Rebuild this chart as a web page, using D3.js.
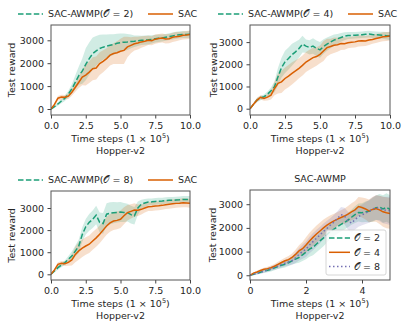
<!DOCTYPE html>
<html>
<head>
<meta charset="utf-8">
<script src="https://cdn.jsdelivr.net/npm/d3@7"></script>
<style>
body { margin: 0; background: #fff; }
svg text { font-family: "DejaVu Sans", sans-serif; fill: #262626; }
</style>
</head>
<body>
<svg width="407" height="329"></svg>
<script>
// time steps (x 1e5)
const timeSteps = [0,0.25,0.5,0.75,1,1.25,1.5,1.75,2,2.25,2.5,2.75,3,3.25,3.5,3.75,4,4.25,4.5,4.75,5,
  5.25,5.5,5.75,6,6.25,6.5,6.75,7,7.25,7.5,7.75,8,8.25,8.5,8.75,9,9.25,9.5,9.75,10];
const timeStepsShort = [0,0.125,0.25,0.375,0.5,0.625,0.75,0.875,1,1.125,1.25,1.375,1.5,1.625,1.75,1.875,2,
  2.125,2.25,2.375,2.5,2.625,2.75,2.875,3,3.125,3.25,3.375,3.5,3.625,3.75,3.875,4,4.125,4.25,4.375,4.5,4.625,4.75,4.875,5];

// panel 1: SAC-AWMP(O=2) vs SAC
const awmp2Mean = [0,100,220,350,470,650,880,1170,1460,1650,1950,2200,2420,2540,2640,2700,2750,2780,2810,2870,2900,
  2920,2930,2950,2960,2980,3000,3010,3020,3040,3070,3090,3100,3130,3160,3190,3220,3240,3250,3250,3260];
const awmp2Spread = [30,60,80,100,120,150,200,300,400,550,700,700,700,650,600,550,500,480,450,420,400,
  380,350,300,250,230,200,200,200,180,170,160,150,150,150,150,150,150,150,150,150];
const sac1Mean = [0,200,470,520,510,560,730,950,1170,1390,1480,1610,1760,1790,1980,2080,2200,2350,2420,2460,2520,
  2560,2710,2780,2850,2880,2930,2960,3000,2980,3050,3080,3100,3060,3070,3130,3160,3180,3220,3230,3250];
const sac1Spread = [30,60,100,100,100,120,150,200,250,350,450,480,500,500,500,480,450,450,450,500,550,
  600,450,350,300,280,250,230,200,200,200,200,200,200,200,200,200,180,180,180,180];

// panel 2: SAC-AWMP(O=4) vs SAC
const awmp4Mean = [0,200,390,480,540,650,810,990,1440,1850,2110,2260,2430,2560,2710,2910,2820,2760,2820,2720,2650,
  2800,2910,3000,3090,3150,3210,3260,3300,3300,3310,3320,3330,3350,3360,3340,3330,3320,3310,3290,3270];
const awmp4Spread = [30,60,90,100,100,120,150,250,400,450,500,500,500,450,400,380,300,320,350,350,350,
  330,300,280,250,220,200,180,160,150,150,150,150,150,150,150,150,150,160,170,180];
const sac2Mean = [0,200,390,510,460,520,610,910,1140,1210,1360,1470,1590,1700,1820,1950,2100,2200,2300,2350,2450,
  2600,2750,2800,2860,2880,2940,2930,2970,2990,3010,3050,3060,3050,3090,3120,3160,3200,3240,3250,3270];
const sac2Spread = [30,60,100,100,100,150,200,300,450,500,500,500,500,480,450,450,450,450,450,420,400,
  450,400,350,350,320,300,280,250,250,250,250,250,230,220,200,200,200,200,200,200];

// panel 3: SAC-AWMP(O=8) vs SAC
const awmp8Mean = [0,150,300,420,530,680,830,1050,1280,1800,2150,2350,2490,2680,2350,2300,2720,2760,2790,2800,2820,
  2800,2790,2700,2650,3000,3170,3230,3270,3280,3300,3310,3320,3340,3350,3350,3360,3370,3390,3390,3390];
const awmp8Spread = [30,60,90,100,100,150,200,250,300,330,350,380,400,420,450,470,500,500,480,460,450,
  430,400,400,400,300,200,180,160,150,150,150,150,150,150,150,150,150,150,150,150];
const sac3Mean = [0,200,450,500,480,540,650,900,1060,1180,1280,1360,1510,1650,1810,2000,2190,2330,2410,2440,2490,
  2650,2790,2850,2910,2900,2940,3000,3060,3070,3090,3100,3120,3150,3170,3190,3210,3220,3240,3230,3210];
const sac3Spread = [30,60,100,100,100,150,250,350,400,400,400,400,400,400,400,400,400,400,400,400,400,
  380,350,320,300,260,230,200,200,200,200,200,200,200,200,200,200,200,200,200,200];

// panel 4: SAC-AWMP with O = 2, 4, 8
const cmpO2Mean = [0,40,80,130,180,210,250,310,370,420,460,530,610,680,750,860,980,1100,1180,1320,1450,
  1580,1720,1850,1950,2050,2150,2230,2330,2450,2560,2650,2640,2680,2700,2760,2850,2880,2800,2860,2780];
const cmpO2Spread = [20,40,50,60,70,80,90,100,110,120,130,140,150,180,220,260,300,320,340,350,350,
  350,340,320,300,300,300,300,300,320,350,380,400,430,460,500,520,550,580,600,600];
const cmpO4Mean = [0,90,140,200,250,280,320,380,460,540,610,660,750,880,1030,1120,1280,1450,1600,1740,1870,
  2000,2120,2210,2300,2370,2440,2500,2580,2680,2760,2900,2860,2800,2720,2780,2820,2760,2680,2640,2610];
const cmpO4Spread = [20,40,50,60,70,80,90,100,110,120,130,150,170,200,240,280,320,340,350,360,360,
  350,330,320,300,300,300,320,340,360,380,400,420,450,480,520,560,600,630,650,650];
const cmpO8Mean = [0,40,80,120,170,230,280,330,390,450,510,560,610,740,880,1000,1100,1280,1420,1560,1700,
  1850,1980,2120,2250,2400,2560,2500,2300,2200,2350,2480,2550,2620,2700,2790,2860,2820,2760,2740,2720];
const cmpO8Spread = [20,40,50,60,70,80,90,100,110,120,130,150,180,220,260,300,330,350,360,360,350,
  340,320,300,300,300,320,350,380,400,420,430,440,460,480,500,520,540,560,580,600];

const yTicks = [0, 1000, 2000, 3000];
const green = '#1b9e77', orange = '#d95f02', purple = '#7570b3';
const dashed = '5.5,2.4', dotted = '1.5,2.5';
const O = '\u{1D4AA}';

const svg = d3.select('svg');

const panels = [
  {left: 51, right: 190, top: 25, bottom: 115, xMax: 10, yDomain: [-262, 3668], xTicks: [0, 2.5, 5, 7.5, 10], xFmt: '.1f',
   labelX: 12, legendY: 14, legendX: [18, 148],
   series: [
     {name: `SAC-AWMP(${O} = 2)`, x: timeSteps, mean: awmp2Mean, spread: awmp2Spread, color: green, dash: dashed},
     {name: 'SAC', x: timeSteps, mean: sac1Mean, spread: sac1Spread, color: orange, dash: null}]},
  {left: 250, right: 390, top: 25, bottom: 115, xMax: 10, yDomain: [-284, 3770], xTicks: [0, 2.5, 5, 7.5, 10], xFmt: '.1f',
   labelX: 214, legendY: 14, legendX: [218, 348],
   series: [
     {name: `SAC-AWMP(${O} = 4)`, x: timeSteps, mean: awmp4Mean, spread: awmp4Spread, color: green, dash: dashed},
     {name: 'SAC', x: timeSteps, mean: sac2Mean, spread: sac2Spread, color: orange, dash: null}]},
  {left: 51, right: 190, top: 191, bottom: 280, xMax: 10, yDomain: [-258, 3770], xTicks: [0, 2.5, 5, 7.5, 10], xFmt: '.1f',
   labelX: 12, legendY: 180, legendX: [18, 148],
   series: [
     {name: `SAC-AWMP(${O} = 8)`, x: timeSteps, mean: awmp8Mean, spread: awmp8Spread, color: green, dash: dashed},
     {name: 'SAC', x: timeSteps, mean: sac3Mean, spread: sac3Spread, color: orange, dash: null}]},
  {left: 250, right: 390, top: 190, bottom: 280, xMax: 5, yDomain: [-200, 3600], xTicks: [0, 2, 4], xFmt: 'd',
   labelX: 213, title: 'SAC-AWMP', boxLegend: true,
   series: [
     {name: `${O} = 2`, x: timeStepsShort, mean: cmpO2Mean, spread: cmpO2Spread, color: green, dash: dashed},
     {name: `${O} = 4`, x: timeStepsShort, mean: cmpO4Mean, spread: cmpO4Spread, color: orange, dash: null},
     {name: `${O} = 8`, x: timeStepsShort, mean: cmpO8Mean, spread: cmpO8Spread, color: purple, dash: dotted}]}
];

panels.forEach(function(p, pi) {
  const x = d3.scaleLinear().domain([0, p.xMax]).range([p.left, p.right]);
  const y = d3.scaleLinear().domain(p.yDomain).range([p.bottom, p.top]);
  const g = svg.append('g');

  g.append('clipPath').attr('id', 'clip' + pi)
    .append('rect').attr('x', p.left).attr('y', p.top)
    .attr('width', p.right - p.left).attr('height', p.bottom - p.top);
  const plot = g.append('g').attr('clip-path', `url(#clip${pi})`);

  p.series.forEach(function(s) {
    const pts = s.x.map((t, i) => ({t: t, m: s.mean[i], sd: s.spread[i]}));
    plot.append('path').datum(pts)
      .attr('fill', s.color).attr('fill-opacity', 0.2)
      .attr('d', d3.area().x(d => x(d.t)).y0(d => y(d.m - d.sd)).y1(d => y(d.m + d.sd)));
  });
  p.series.forEach(function(s) {
    const pts = s.x.map((t, i) => ({t: t, m: s.mean[i]}));
    plot.append('path').datum(pts)
      .attr('fill', 'none').attr('stroke', s.color).attr('stroke-width', 1.5)
      .attr('stroke-dasharray', s.dash)
      .attr('d', d3.line().x(d => x(d.t)).y(d => y(d.m)));
  });

  // axes
  const xa = g.append('g').attr('transform', `translate(0,${p.bottom})`)
    .call(d3.axisBottom(x).tickValues(p.xTicks).tickFormat(d3.format(p.xFmt)).tickSizeOuter(0).tickSize(3.5).tickPadding(3.5));
  const ya = g.append('g').attr('transform', `translate(${p.left},0)`)
    .call(d3.axisLeft(y).tickValues(yTicks).tickFormat(d3.format('d')).tickSizeOuter(0).tickSize(3.5).tickPadding(3.5));
  [xa, ya].forEach(a => {
    a.select('.domain').remove();
    a.selectAll('line').attr('stroke', '#444');
    a.selectAll('text').attr('font-size', 9.5).attr('font-family', 'DejaVu Sans').attr('fill', '#262626');
  });
  g.append('rect').attr('x', p.left).attr('y', p.top)
    .attr('width', p.right - p.left).attr('height', p.bottom - p.top)
    .attr('fill', 'none').attr('stroke', '#555').attr('stroke-width', 1);

  // labels
  const cx = (p.left + p.right) / 2;
  const xl = g.append('text').attr('x', cx).attr('y', p.bottom + 26.5)
    .attr('text-anchor', 'middle').attr('font-size', 9.5);
  xl.append('tspan').text('Time steps (1 \u00d7 10');
  xl.append('tspan').attr('font-size', 6.5).attr('dy', -4).text('5');
  xl.append('tspan').attr('dy', 4).text(')');
  g.append('text').attr('x', cx).attr('y', p.bottom + 38.5)
    .attr('text-anchor', 'middle').attr('font-size', 9.5).text('Hopper-v2');
  g.append('text').attr('transform', `translate(${p.labelX},${(p.top + p.bottom) / 2}) rotate(-90)`)
    .attr('text-anchor', 'middle').attr('dy', '0.35em').attr('font-size', 9.5).text('Test reward');

  if (p.title) {
    g.append('text').attr('x', cx).attr('y', p.top - 8.5)
      .attr('text-anchor', 'middle').attr('font-size', 9.5).text(p.title);
  }

  if (p.boxLegend) {
    const lx = 326, ly = 230;
    g.append('rect').attr('x', lx).attr('y', ly).attr('width', 60).attr('height', 45)
      .attr('rx', 2).attr('fill', '#fff').attr('fill-opacity', 0.8)
      .attr('stroke', '#ccc').attr('stroke-width', 0.8);
    p.series.forEach(function(s, i) {
      const yy = ly + 8 + i * 14.3;
      g.append('line').attr('x1', lx + 3).attr('x2', lx + 24).attr('y1', yy).attr('y2', yy)
        .attr('stroke', s.color).attr('stroke-width', 1.5).attr('stroke-dasharray', s.dash);
      g.append('text').attr('x', lx + 28).attr('y', yy).attr('dy', '0.35em')
        .attr('font-size', 9.5).text(s.name);
    });
  } else {
    p.series.forEach(function(s, i) {
      const x0 = p.legendX[i];
      g.append('line').attr('x1', x0).attr('x2', x0 + 25).attr('y1', p.legendY).attr('y2', p.legendY)
        .attr('stroke', s.color).attr('stroke-width', 1.5).attr('stroke-dasharray', s.dash);
      g.append('text').attr('x', x0 + 30).attr('y', p.legendY).attr('dy', '0.35em')
        .attr('font-size', 9.5).text(s.name);
    });
  }
});
</script>
</body>
</html>
